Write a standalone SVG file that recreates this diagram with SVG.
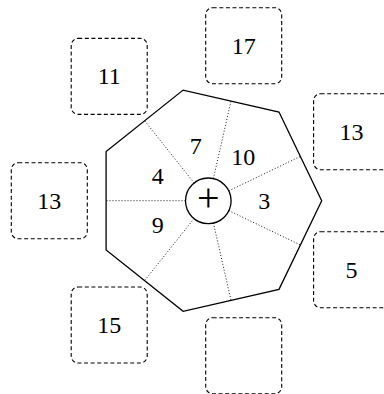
<svg xmlns="http://www.w3.org/2000/svg" width="384" height="394" viewBox="0 0 384 394">
<style>
.box{fill:none;stroke:#000;stroke-width:1.1;stroke-dasharray:4 2.6}
.hept{fill:none;stroke:#000;stroke-width:1.3;stroke-linejoin:miter}
.dot{stroke:#000;stroke-width:0.9;stroke-dasharray:1 2}
.t{font-family:"Liberation Serif","DejaVu Serif",serif;font-size:24px;text-anchor:middle;fill:#000}
</style>
<rect width="384" height="394" fill="#fff"/>
<g id="wheel">
<polygon class="hept" points="321.7,200.7 279,112 183.1,90.1 106.1,151.5 106.1,249.9 183.1,311.3 279,289.4"/>
</g>
<g id="connectors">
<line class="dot" x1="228.8" y1="190.8" x2="300.4" y2="156.4"/>
<line class="dot" x1="213.4" y1="178.5" x2="231" y2="101.1"/>
<line class="dot" x1="194.1" y1="182.9" x2="144.6" y2="120.8"/>
<line class="dot" x1="185.5" y1="200.7" x2="106.1" y2="200.7"/>
<line class="dot" x1="194.1" y1="218.5" x2="144.6" y2="280.6"/>
<line class="dot" x1="213.4" y1="222.9" x2="231" y2="300.3"/>
<line class="dot" x1="228.8" y1="210.6" x2="300.4" y2="245"/>
</g>
<g id="sectors">
<text class="t" x="264.3" y="208.7">3</text>
<text class="t" x="243.2" y="164.9">10</text>
<text class="t" x="195.8" y="154.1">7</text>
<text class="t" x="157.8" y="184.4">4</text>
<text class="t" x="157.8" y="233">9</text>
</g>
<g id="hub">
<circle cx="208.3" cy="200.8" r="22.8" fill="#fff" stroke="#000" stroke-width="1.3"/>
<text x="208.3" y="211" font-family="Liberation Serif, serif" font-size="40" text-anchor="middle">+</text>
</g>
<g id="box17"><rect class="box" x="205.7" y="7.7" width="76" height="76" rx="7"/><text class="t" x="243.7" y="53.7">17</text></g>
<g id="box11"><rect class="box" x="71.2" y="38.4" width="76" height="76" rx="7"/><text class="t" x="109.2" y="84.4">11</text></g>
<g id="box13l"><rect class="box" x="11.3" y="162.7" width="76" height="76" rx="7"/><text class="t" x="49.3" y="208.7">13</text></g>
<g id="box13r"><rect class="box" x="313.6" y="93.7" width="76" height="76" rx="7"/><text class="t" x="351.6" y="139.7">13</text></g>
<g id="box5"><rect class="box" x="313.6" y="231.7" width="76" height="76" rx="7"/><text class="t" x="351.6" y="277.7">5</text></g>
<g id="box15"><rect class="box" x="71.2" y="287" width="76" height="76" rx="7"/><text class="t" x="109.2" y="333">15</text></g>
<g id="boxempty"><rect class="box" x="205.7" y="317.7" width="76" height="76" rx="7"/></g>
</svg>
